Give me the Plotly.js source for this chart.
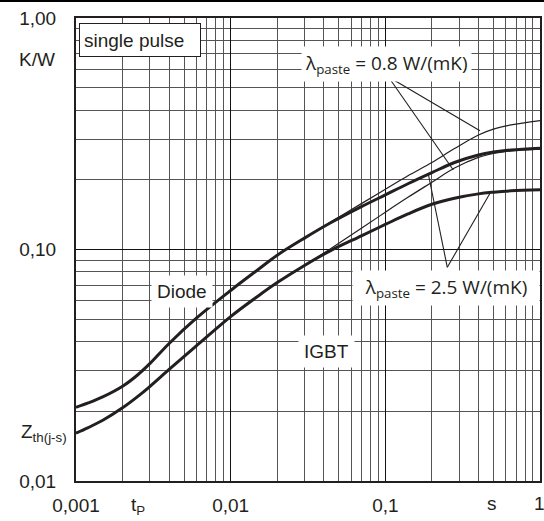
<!DOCTYPE html>
<html>
<head>
<meta charset="utf-8">
<script src="https://cdn.plot.ly/plotly-3.0.1.min.js"></script>
<style>html,body{margin:0;padding:0;background:#fff}#chart{width:544px;height:521px}</style>
</head>
<body>
<div id="chart"></div>
<script>
// pulse duration t_P in s
const tp = [0.001, 0.0012, 0.0015, 0.002, 0.0025, 0.003, 0.004, 0.006, 0.01, 0.015, 0.02, 0.03, 0.044, 0.07, 0.1, 0.14, 0.2, 0.28, 0.4, 0.5, 0.65, 1];
// Z_th(j-s) in K/W
const diodePaste25 = [0.0208, 0.02173, 0.02313, 0.02566, 0.0287, 0.03212, 0.03928, 0.05051, 0.06654, 0.0818, 0.0945, 0.1120, 0.1301, 0.1531, 0.1722, 0.1923, 0.2148, 0.2376, 0.2561, 0.2636, 0.2692, 0.2740];
const diodePaste08 = [0.0208, 0.02173, 0.02313, 0.02566, 0.0287, 0.03212, 0.03928, 0.05051, 0.06654, 0.0818, 0.0945, 0.1120, 0.1311, 0.1578, 0.1820, 0.2083, 0.2376, 0.2728, 0.3124, 0.3311, 0.3452, 0.3604];
const igbtPaste25 = [0.0161, 0.0170, 0.01834, 0.0207, 0.02314, 0.02559, 0.03032, 0.03837, 0.05132, 0.06285, 0.07196, 0.08532, 0.0987, 0.1145, 0.1283, 0.1424, 0.1568, 0.1666, 0.1739, 0.1768, 0.1792, 0.1811];
const igbtPaste08 = [0.0161, 0.0170, 0.01834, 0.0207, 0.02314, 0.02559, 0.03032, 0.03837, 0.05132, 0.06285, 0.07196, 0.08532, 0.1006, 0.1234, 0.1449, 0.1680, 0.1952, 0.2248, 0.2501, 0.2599, 0.2669, 0.2715];

const xTickVals = [0.001, 0.01, 0.1, 1];
const xTickText = ['0,001', '0,01', '0,1', ''];
const xLastLabel = '1';
const yTickVals = [0.01, 0.1, 1];
const yTickText = ['0,01', '0,10', '1,00'];
const xMinor = [0.002,0.003,0.004,0.005,0.006,0.007,0.008,0.009,0.02,0.03,0.04,0.05,0.06,0.07,0.08,0.09,0.2,0.3,0.4,0.5,0.6,0.7,0.8,0.9];
const yMinor = [0.02,0.03,0.04,0.05,0.06,0.07,0.08,0.09,0.2,0.3,0.4,0.5,0.6,0.7,0.8,0.9];

const ink = '#231f20';
const arial = '"Liberation Sans", Arial, sans-serif';
const calib = '"Open Sans", "Noto Sans", sans-serif';

function curve(y, w) {
  return {x: tp, y: y, type: 'scatter', mode: 'lines',
    line: {color: ink, width: w, shape: 'spline', smoothing: 1},
    hoverinfo: 'skip', showlegend: false};
}
const traces = [
  curve(diodePaste08, 1.2),
  curve(igbtPaste08, 1.2),
  curve(diodePaste25, 3),
  curve(igbtPaste25, 3)
];

// pixel helpers for the plot area (decorations only)
const L = 76, R = 540, T = 18, B = 481;
const px = v => (v - L) / (R - L);
const py = v => (B - v) / (B - T);

function leader(x0, y0, x1, y1) {
  return {type: 'line', xref: 'paper', yref: 'paper',
    x0: px(x0), y0: py(y0), x1: px(x1), y1: py(y1),
    line: {color: ink, width: 1.1}, layer: 'above'};
}

const layout = {
  width: 544, height: 521,
  margin: {l: 76, r: 4, t: 18, b: 40},
  paper_bgcolor: '#fff', plot_bgcolor: '#fff',
  showlegend: false,
  font: {family: arial, size: 19, color: ink},
  xaxis: {
    type: 'log', range: [-3, 0],
    tickmode: 'array', tickvals: xTickVals, ticktext: xTickText,
    ticks: '', ticklabelstandoff: 6,
    showgrid: true, gridcolor: '#111', gridwidth: 1,
    minor: {tickmode: 'array', tickvals: xMinor, showgrid: true, gridcolor: '#555', gridwidth: 1, ticks: ''},
    showline: true, linecolor: ink, linewidth: 2, mirror: true,
    zeroline: false, fixedrange: true,
    tickfont: {family: arial, size: 19, color: ink}
  },
  yaxis: {
    type: 'log', range: [-2, 0],
    tickmode: 'array', tickvals: yTickVals, ticktext: yTickText,
    ticks: '', ticklabelstandoff: 14,
    showgrid: true, gridcolor: '#111', gridwidth: 1,
    minor: {tickmode: 'array', tickvals: yMinor, showgrid: true, gridcolor: '#555', gridwidth: 1, ticks: ''},
    showline: true, linecolor: ink, linewidth: 2, mirror: true,
    zeroline: false, fixedrange: true,
    tickfont: {family: arial, size: 19, color: ink}
  },
  shapes: [
    {type: 'line', xref: 'paper', yref: 'paper', x0: px(0), x1: px(544), y0: py(1), y1: py(1), line: {color: '#000', width: 2}},
    leader(388.3, 76.7, 480, 130.7),
    leader(388.3, 76.7, 453.3, 170),
    leader(447.3, 267.3, 428.3, 174),
    leader(447.3, 267.3, 490, 193.3)
  ],
  annotations: [
    {xref: 'paper', yref: 'paper', x: px(79), y: py(23), xanchor: 'left', yanchor: 'top',
     text: 'single pulse', showarrow: false, align: 'left', width: 112, height: 24,
     bgcolor: '#fff', bordercolor: ink, borderwidth: 1, borderpad: 4,
     font: {family: arial, size: 19, color: ink}},
    {xref: 'paper', yref: 'paper', x: px(181.7), y: py(291.7), xanchor: 'center', yanchor: 'middle',
     text: 'Diode', showarrow: false, bgcolor: '#fff', borderpad: 5,
     font: {family: arial, size: 19, color: ink}},
    {xref: 'paper', yref: 'paper', x: px(326.7), y: py(351), xanchor: 'center', yanchor: 'middle',
     text: 'IGBT', showarrow: false, bgcolor: '#fff', borderpad: 5,
     font: {family: arial, size: 19, color: ink}},
    {xref: 'paper', yref: 'paper', x: px(386.7), y: py(64), xanchor: 'center', yanchor: 'middle',
     text: 'λ<sub>paste</sub> = 0.8 W/(mK)', showarrow: false, bgcolor: '#fff', borderpad: 3,
     font: {family: calib, size: 19, color: ink}},
    {xref: 'paper', yref: 'paper', x: px(540), y: py(287.5), xanchor: 'right', yanchor: 'middle',
     text: 'λ<sub>paste</sub> = 2.5 W/(mK)', showarrow: false, bgcolor: '#fff', borderpad: 3,
     width: 180, align: 'center',
     font: {family: calib, size: 19, color: ink}},
    {xref: 'paper', yref: 'paper', x: px(36.5), y: py(60), xanchor: 'center', yanchor: 'middle',
     text: 'K/W', showarrow: false, font: {family: arial, size: 19, color: ink}},
    {xref: 'paper', yref: 'paper', x: px(19), y: py(433), xanchor: 'left', yanchor: 'middle',
     text: 'Z<sub>th(j-s)</sub>', showarrow: false, font: {family: arial, size: 19, color: ink}},
    {xref: 'paper', yref: 'paper', x: px(129), y: py(506), xanchor: 'left', yanchor: 'middle',
     text: 't<sub>P</sub>', showarrow: false, font: {family: arial, size: 19, color: ink}},
    {xref: 'paper', yref: 'paper', x: px(491.7), y: py(503), xanchor: 'center', yanchor: 'middle',
     text: 's', showarrow: false, font: {family: arial, size: 19, color: ink}},
    {xref: 'paper', yref: 'paper', x: px(539), y: py(503), xanchor: 'center', yanchor: 'middle',
     text: xLastLabel, showarrow: false, font: {family: arial, size: 19, color: ink}}
  ]
};

Plotly.newPlot('chart', traces, layout, {staticPlot: true, displayModeBar: false});
</script>
</body>
</html>
